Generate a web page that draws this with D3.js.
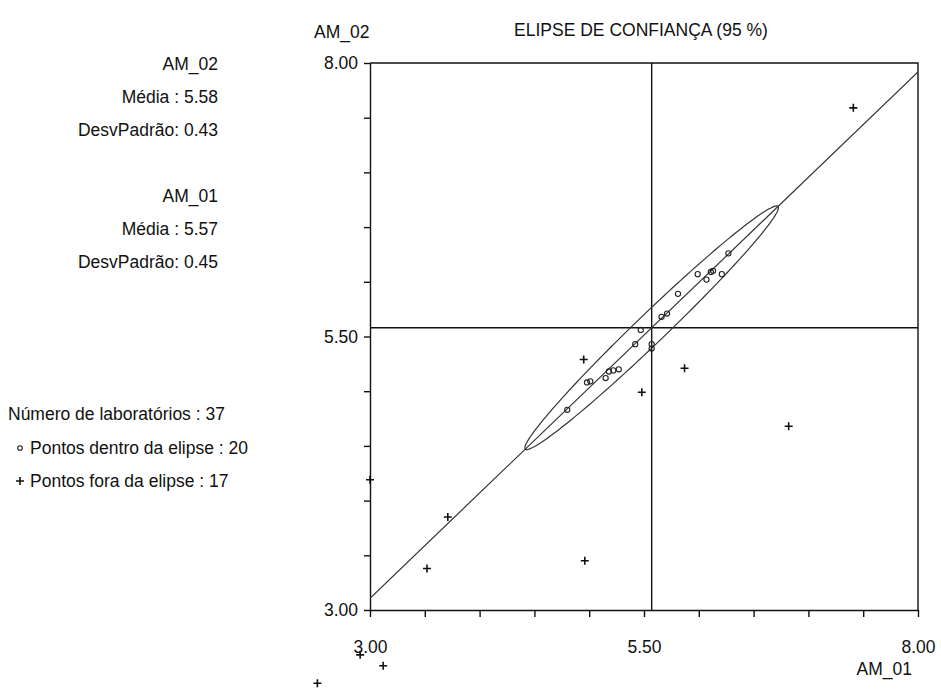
<!DOCTYPE html>
<html>
<head>
<meta charset="utf-8">
<script src="https://cdn.jsdelivr.net/npm/d3@7"></script>
<style>
  body { margin: 0; background: #fff; }
  text { font-family: "Liberation Sans", Arial, sans-serif; font-size: 17.5px; fill: #111; }
</style>
</head>
<body>
<div id="chart"></div>
<script>
// data
var varNames = ["AM_02", "AM_01"];
var varMeans = [5.58, 5.57];
var varSds = [0.43, 0.45];
var nLabs = 37, nInside = 20, nOutside = 17;

var insideX = [6.27, 5.99, 6.07, 6.11, 6.13, 6.21, 5.81, 5.66, 5.71, 5.47, 5.42, 5.57, 5.57, 5.27, 5.22, 5.18, 5.15, 5.01, 4.98, 4.80];
var insideY = [6.26, 6.07, 6.02, 6.09, 6.10, 6.07, 5.89, 5.68, 5.71, 5.56, 5.43, 5.43, 5.39, 5.20, 5.19, 5.18, 5.12, 5.09, 5.08, 4.83];

var outsideX = [7.41, 4.95, 5.87, 5.48, 6.82, 3.71, 3.52, 4.96, 3.00, 2.91, 3.12, 2.52];
var outsideY = [7.59, 5.29, 5.21, 4.99, 4.68, 3.85, 3.38, 3.45, 4.19, 2.59, 2.49, 2.33];

var axisTicks = [3, 3.5, 4, 4.5, 5, 5.5, 6, 6.5, 7, 7.5, 8];
var axisLabels = [3, 5.5, 8];

// ellipse (95 %) and its main axis
var ellSlope = 0.962;
var ellA = 1.60, ellB = 0.135;

var width = 941, height = 689;
var svg = d3.select("#chart").append("svg")
    .attr("width", width)
    .attr("height", height);

var x = d3.scaleLinear().domain([3, 8]).range([370, 918]);
var y = d3.scaleLinear().domain([3, 8]).range([610, 63]);

svg.append("defs").append("clipPath")
    .attr("id", "plotClip")
    .append("rect")
    .attr("x", x(3)).attr("y", y(8))
    .attr("width", x(8) - x(3)).attr("height", y(3) - y(8));

var fmt = d3.format(".2f");

// axes
var xAxis = svg.append("g")
    .attr("transform", "translate(0," + y(3) + ")")
    .call(d3.axisBottom(x)
        .tickValues(axisTicks)
        .tickSize(7)
        .tickSizeOuter(0)
        .tickPadding(24)
        .tickFormat(function (d) { return axisLabels.indexOf(d) >= 0 ? fmt(d) : ""; }));

var yAxis = svg.append("g")
    .attr("transform", "translate(" + x(3) + ",0)")
    .call(d3.axisLeft(y)
        .tickValues(axisTicks)
        .tickSize(6)
        .tickSizeOuter(0)
        .tickPadding(6)
        .tickFormat(function (d) { return axisLabels.indexOf(d) >= 0 ? fmt(d) : ""; }));

svg.selectAll(".domain, .tick line")
    .attr("stroke", "#111")
    .attr("stroke-width", 1.4);
svg.selectAll(".tick text")
    .attr("font-family", null)
    .attr("font-size", null)
    .attr("fill", null);

// frame top / right
svg.append("path")
    .attr("d", "M" + x(3) + "," + y(8) + "H" + x(8) + "V" + y(3))
    .attr("fill", "none")
    .attr("stroke", "#111")
    .attr("stroke-width", 1.4);

var plot = svg.append("g").attr("clip-path", "url(#plotClip)");

// mean lines
plot.append("line")
    .attr("x1", x(varMeans[1])).attr("x2", x(varMeans[1]))
    .attr("y1", y(3)).attr("y2", y(8))
    .attr("stroke", "#111").attr("stroke-width", 1.4);
plot.append("line")
    .attr("x1", x(3)).attr("x2", x(8))
    .attr("y1", y(varMeans[0])).attr("y2", y(varMeans[0]))
    .attr("stroke", "#111").attr("stroke-width", 1.4);

// main axis line
plot.append("line")
    .attr("x1", x(3)).attr("y1", y(varMeans[0] + ellSlope * (3 - varMeans[1])))
    .attr("x2", x(8)).attr("y2", y(varMeans[0] + ellSlope * (8 - varMeans[1])))
    .attr("stroke", "#333").attr("stroke-width", 1.2);

// ellipse
var theta = Math.atan(ellSlope);
var ellPts = d3.range(0, 361, 2).map(function (deg) {
    var t = deg * Math.PI / 180;
    var u = ellA * Math.cos(t), v = ellB * Math.sin(t);
    return [varMeans[1] + u * Math.cos(theta) - v * Math.sin(theta),
            varMeans[0] + u * Math.sin(theta) + v * Math.cos(theta)];
});
plot.append("path")
    .datum(ellPts)
    .attr("d", d3.line().x(function (d) { return x(d[0]); }).y(function (d) { return y(d[1]); }).curve(d3.curveLinearClosed))
    .attr("fill", "none")
    .attr("stroke", "#333")
    .attr("stroke-width", 1.2);

// points inside
svg.selectAll(".inside")
    .data(insideX)
    .enter()
    .append("circle")
    .attr("class", "inside")
    .attr("cx", function (d) { return x(d); })
    .attr("cy", function (d, i) { return y(insideY[i]); })
    .attr("r", 2.6)
    .attr("fill", "none")
    .attr("stroke", "#222")
    .attr("stroke-width", 1.1);

// points outside
var plus = "M-4,0H4M0,-4V4";
svg.selectAll(".outside")
    .data(outsideX)
    .enter()
    .append("path")
    .attr("class", "outside")
    .attr("d", plus)
    .attr("transform", function (d, i) { return "translate(" + x(d) + "," + y(outsideY[i]) + ")"; })
    .attr("stroke", "#111")
    .attr("stroke-width", 1.6);

// titles
svg.append("text")
    .attr("x", 641).attr("y", 36)
    .attr("text-anchor", "middle")
    .text("ELIPSE DE CONFIANÇA (95 %)");
svg.append("text")
    .attr("x", 314).attr("y", 38)
    .text(varNames[0]);
svg.append("text")
    .attr("x", 912).attr("y", 675)
    .attr("text-anchor", "end")
    .text(varNames[1]);

// stats block
var statLines = [];
varNames.forEach(function (n, i) {
    var top = 70 + i * 132;
    statLines.push({t: n, y: top});
    statLines.push({t: "Média : " + fmt(varMeans[i]), y: top + 33});
    statLines.push({t: "DesvPadrão: " + fmt(varSds[i]), y: top + 66});
});
svg.selectAll(".stat")
    .data(statLines)
    .enter()
    .append("text")
    .attr("class", "stat")
    .attr("x", 218)
    .attr("y", function (d) { return d.y; })
    .attr("text-anchor", "end")
    .text(function (d) { return d.t; });

// legend
svg.append("text").attr("x", 8).attr("y", 420).text("Número de laboratórios : " + nLabs);
svg.append("circle").attr("cx", 20).attr("cy", 448).attr("r", 2.3)
    .attr("fill", "none").attr("stroke", "#222").attr("stroke-width", 1.1);
svg.append("text").attr("x", 30).attr("y", 454).text("Pontos dentro da elipse : " + nInside);
svg.append("path").attr("d", plus).attr("transform", "translate(20,481)")
    .attr("stroke", "#111").attr("stroke-width", 1.6);
svg.append("text").attr("x", 30).attr("y", 487).text("Pontos fora da elipse : " + nOutside);
</script>
</body>
</html>
